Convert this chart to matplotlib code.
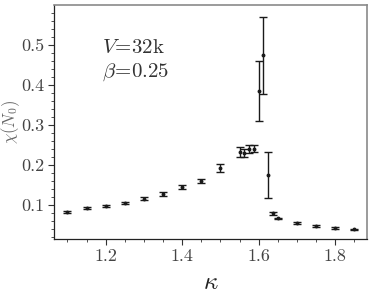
import matplotlib
matplotlib.use("Agg")
import matplotlib.pyplot as plt
from matplotlib.ticker import MultipleLocator, FormatStrFormatter

plt.rcParams['font.family'] = 'serif'
plt.rcParams['font.serif'] = ['cmr10']
plt.rcParams['mathtext.fontset'] = 'cm'
plt.rcParams['axes.unicode_minus'] = False
plt.rcParams['axes.formatter.use_mathtext'] = True

kappa = [1.10, 1.15, 1.20, 1.25, 1.30, 1.35, 1.40, 1.45, 1.50,
         1.55, 1.5625, 1.575, 1.5875, 1.60, 1.6125, 1.625, 1.6375, 1.65,
         1.70, 1.75, 1.80, 1.85]
chi = [0.083, 0.093, 0.0975, 0.106, 0.116, 0.128, 0.145, 0.160, 0.194,
       0.232, 0.231, 0.240, 0.241, 0.385, 0.474, 0.175, 0.080, 0.067,
       0.056, 0.0485, 0.0435, 0.040]
err = [0.002, 0.002, 0.003, 0.003, 0.004, 0.004, 0.005, 0.005, 0.010,
       0.012, 0.010, 0.011, 0.009, 0.074, 0.096, 0.057, 0.004, 0.002,
       0.002, 0.002, 0.002, 0.002]

fig = plt.figure(figsize=(3.74, 2.95), dpi=100)
ax = fig.add_axes([0.1444, 0.19, 0.8366, 0.793])

ax.errorbar(kappa, chi, yerr=err, fmt='o', color='#1a1a1a', ms=1.8,
            elinewidth=1.0, capsize=3.2, capthick=1.0)

ax.set_xlim(1.065, 1.883)
ax.set_ylim(0.016, 0.599)
ax.xaxis.set_major_locator(MultipleLocator(0.2))
ax.xaxis.set_minor_locator(MultipleLocator(0.05))
ax.yaxis.set_major_locator(MultipleLocator(0.1))
ax.yaxis.set_minor_locator(MultipleLocator(0.02))
ax.xaxis.set_major_formatter(FormatStrFormatter('%.1f'))
ax.yaxis.set_major_formatter(FormatStrFormatter('%.1f'))

ax.tick_params(which='both', direction='out', top=False, right=False,
               colors='#333333', labelcolor='#444444', labelsize=13)
ax.tick_params(which='major', length=4, width=0.8, pad=3)
ax.tick_params(which='minor', length=2.5, width=0.6)

for s in ['left', 'bottom']:
    ax.spines[s].set_color('#222222')
    ax.spines[s].set_linewidth(0.9)
for s in ['top', 'right']:
    ax.spines[s].set_color('#8a8a8a')
    ax.spines[s].set_linewidth(1.2)

ax.set_xlabel(r'$\kappa$', fontsize=18, color='#222222')
ax.xaxis.label.set_va('baseline')
ax.xaxis.set_label_coords(0.5, -0.215)
ax.set_ylabel(r'$\chi(N_0)$', fontsize=12, color='#666666')
ax.yaxis.set_label_coords(-0.102, 0.5)

ax.text(0.153, 0.8175, r'$V\!=\!32\mathrm{k}$', transform=ax.transAxes,
        fontsize=15, color='#333333', va='center')
ax.text(0.153, 0.714, r'$\beta\!=\!0.25$', transform=ax.transAxes,
        fontsize=15, color='#333333', va='center')

fig.savefig('out.png', dpi=100)
